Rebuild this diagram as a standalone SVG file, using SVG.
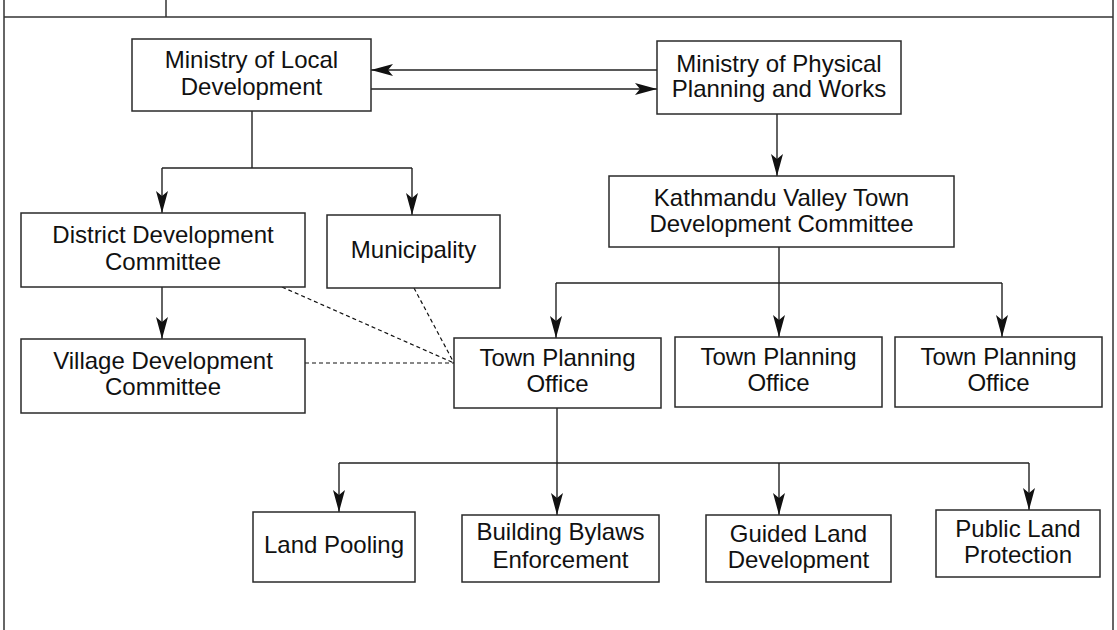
<svg xmlns="http://www.w3.org/2000/svg" width="1117" height="630" viewBox="0 0 1117 630">
  <style>
    .box { fill: #ffffff; stroke: #2a2a2a; stroke-width: 1.5; }
    .lbl { font-family: "Liberation Sans", Arial, Helvetica, sans-serif; font-size: 24px; fill: #111111; text-anchor: middle; }
    .line { fill: none; stroke: #222222; stroke-width: 1.4; }
    .arrow { fill: none; stroke: #222222; stroke-width: 1.4; marker-end: url(#head); }
    .dash { fill: none; stroke: #111111; stroke-width: 1.2; stroke-dasharray: 4 3; }
    .frame { fill: none; stroke: #333333; stroke-width: 1.5; }
  </style>
  <defs>
    <marker id="head" viewBox="0 0 22 12" refX="22" refY="6" markerWidth="22" markerHeight="12" markerUnits="userSpaceOnUse" orient="auto">
      <path d="M0,0 L22,6 L0,12 L5,6 Z" fill="#111111"/>
    </marker>
  </defs>

  <rect width="1117" height="630" fill="#ffffff"/>

  <!-- page frame with header strip -->
  <g id="frame" class="frame">
    <line x1="4" y1="0" x2="4" y2="630"/>
    <line x1="1113" y1="0" x2="1113" y2="630"/>
    <line x1="4" y1="17" x2="1113" y2="17"/>
    <line x1="166" y1="0" x2="166" y2="17"/>
  </g>

  <!-- connectors -->
  <g id="connectors">
    <line class="arrow" x1="657" y1="70" x2="371" y2="70"/>
    <line class="arrow" x1="371" y1="89" x2="657" y2="89"/>

    <polyline class="line" points="252,111 252,168"/>
    <line class="line" x1="162" y1="168" x2="412" y2="168"/>
    <line class="arrow" x1="162" y1="168" x2="162" y2="213"/>
    <line class="arrow" x1="412" y1="168" x2="412" y2="215"/>
    <line class="arrow" x1="162" y1="287" x2="162" y2="339"/>

    <line class="arrow" x1="777" y1="114" x2="777" y2="176"/>
    <line class="line" x1="779" y1="247" x2="779" y2="283"/>
    <line class="line" x1="556" y1="283" x2="1002" y2="283"/>
    <line class="arrow" x1="556" y1="283" x2="556" y2="338"/>
    <line class="arrow" x1="779" y1="283" x2="779" y2="337"/>
    <line class="arrow" x1="1002" y1="283" x2="1002" y2="337"/>

    <line class="dash" x1="282" y1="287" x2="454" y2="363"/>
    <line class="dash" x1="414" y1="288" x2="454" y2="363"/>
    <line class="dash" x1="305" y1="363" x2="454" y2="363"/>

    <line class="line" x1="557" y1="408" x2="557" y2="463"/>
    <line class="line" x1="339" y1="463" x2="1029" y2="463"/>
    <line class="arrow" x1="339" y1="463" x2="339" y2="512"/>
    <line class="arrow" x1="557" y1="463" x2="557" y2="515"/>
    <line class="arrow" x1="779" y1="463" x2="779" y2="515"/>
    <line class="arrow" x1="1029" y1="463" x2="1029" y2="510"/>
  </g>

  <g id="ministry-local-development">
    <rect class="box" x="132" y="39" width="239" height="72"/>
    <text class="lbl" x="251.5" y="68">Ministry of Local</text>
    <text class="lbl" x="251.5" y="95">Development</text>
  </g>

  <g id="ministry-physical-planning">
    <rect class="box" x="657" y="41" width="244" height="73"/>
    <text class="lbl" x="779" y="72">Ministry of Physical</text>
    <text class="lbl" x="779" y="97">Planning and Works</text>
  </g>

  <g id="kvtdc">
    <rect class="box" x="609" y="176" width="345" height="71"/>
    <text class="lbl" x="781.5" y="206">Kathmandu Valley Town</text>
    <text class="lbl" x="781.5" y="232">Development Committee</text>
  </g>

  <g id="district-development-committee">
    <rect class="box" x="21" y="213" width="284" height="74"/>
    <text class="lbl" x="163" y="243">District Development</text>
    <text class="lbl" x="163" y="270">Committee</text>
  </g>

  <g id="municipality">
    <rect class="box" x="327" y="215" width="173" height="73"/>
    <text class="lbl" x="413.5" y="258">Municipality</text>
  </g>

  <g id="village-development-committee">
    <rect class="box" x="21" y="339" width="284" height="74"/>
    <text class="lbl" x="163" y="369">Village Development</text>
    <text class="lbl" x="163" y="395">Committee</text>
  </g>

  <g id="town-planning-office-1">
    <rect class="box" x="454" y="338" width="207" height="70"/>
    <text class="lbl" x="557.5" y="366">Town Planning</text>
    <text class="lbl" x="557.5" y="392">Office</text>
  </g>

  <g id="town-planning-office-2">
    <rect class="box" x="675" y="337" width="207" height="70"/>
    <text class="lbl" x="778.5" y="365">Town Planning</text>
    <text class="lbl" x="778.5" y="391">Office</text>
  </g>

  <g id="town-planning-office-3">
    <rect class="box" x="895" y="337" width="207" height="70"/>
    <text class="lbl" x="998.5" y="365">Town Planning</text>
    <text class="lbl" x="998.5" y="391">Office</text>
  </g>

  <g id="land-pooling">
    <rect class="box" x="253" y="512" width="162" height="70"/>
    <text class="lbl" x="334" y="553">Land Pooling</text>
  </g>

  <g id="building-bylaws">
    <rect class="box" x="462" y="515" width="197" height="67"/>
    <text class="lbl" x="560.5" y="540">Building Bylaws</text>
    <text class="lbl" x="560.5" y="568">Enforcement</text>
  </g>

  <g id="guided-land-development">
    <rect class="box" x="706" y="515" width="185" height="67"/>
    <text class="lbl" x="798.5" y="542">Guided Land</text>
    <text class="lbl" x="798.5" y="568">Development</text>
  </g>

  <g id="public-land-protection">
    <rect class="box" x="936" y="510" width="164" height="67"/>
    <text class="lbl" x="1018" y="537">Public Land</text>
    <text class="lbl" x="1018" y="563">Protection</text>
  </g>
</svg>
